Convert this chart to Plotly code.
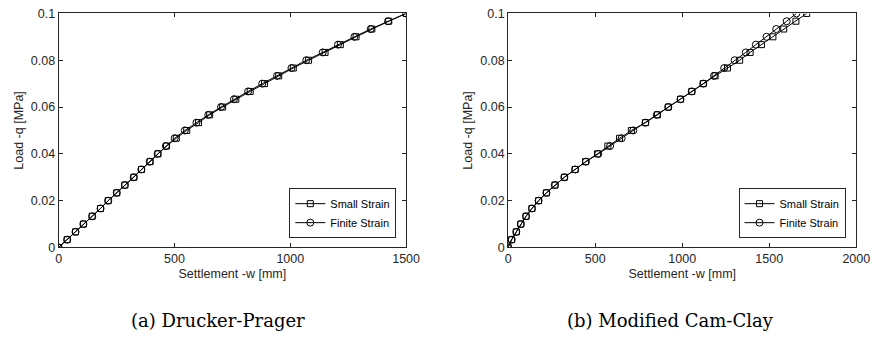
import plotly.graph_objects as go

# Load levels (MPa), 30 increments
load = [k * 0.1 / 30 for k in range(31)]

# (a) Drucker-Prager settlements [mm]
dp_small = [0, 37, 73, 107, 145, 181, 214, 251, 286, 325, 358, 395, 429, 466, 508, 553,
            604, 652, 708, 765, 827, 889, 950, 1013, 1079, 1150, 1216, 1284, 1352, 1425, 1500]
dp_finite = [0, 37, 73, 107, 145, 181, 214, 251, 286, 324, 357, 393, 427, 463, 501, 545,
             595, 646, 701, 757, 818, 879, 943, 1005, 1069, 1140, 1206, 1277, 1347, 1422, 1500]

# (b) Modified Cam-Clay settlements [mm]
mcc_small = [0, 19, 47, 73, 103, 137, 175, 220, 269, 323, 385, 445, 513, 573, 640, 708,
             789, 858, 920, 990, 1055, 1121, 1189, 1260, 1330, 1390, 1455, 1521, 1583, 1653, 1715]
mcc_finite = [0, 21, 47, 73, 103, 137, 175, 220, 269, 323, 385, 447, 518, 586, 652, 719,
              789, 854, 920, 990, 1055, 1121, 1183, 1241, 1301, 1365, 1423, 1484, 1540, 1600, 1656]

names = ["Small Strain", "Finite Strain"]
captions = ["(a) Drucker-Prager", "(b) Modified Cam-Clay"]
x_ranges = [[0, 1500], [0, 2000]]

AXC = "#262626"
fig = go.Figure()

sets = [(dp_small, dp_finite), (mcc_small, mcc_finite)]
for i, (s, f) in enumerate(sets):
    xa = "x" if i == 0 else "x2"
    ya = "y" if i == 0 else "y2"
    lg = "legend" if i == 0 else "legend2"
    fig.add_trace(go.Scatter(x=s, y=load, mode="lines+markers", name=names[0],
                             xaxis=xa, yaxis=ya, legend=lg,
                             line=dict(color="black", width=1),
                             marker=dict(symbol="square-open", size=6, color="black",
                                         line=dict(width=1, color="black"))))
    fig.add_trace(go.Scatter(x=f, y=load, mode="lines+markers", name=names[1],
                             xaxis=xa, yaxis=ya, legend=lg,
                             line=dict(color="black", width=1),
                             marker=dict(symbol="circle-open", size=7, color="black",
                                         line=dict(width=1, color="black"))))

y0, y1 = 1 - 250.7 / 343, 1 - 6.7 / 343
doms = [[56.7 / 886, 411 / 886], [515 / 886, 870 / 886]]

axfont = dict(family="Liberation Sans, Arial", size=12.5, color=AXC)
common_x = dict(showline=True, linecolor=AXC, linewidth=1, mirror="ticks",
                ticks="inside", ticklen=4, tickcolor=AXC, showgrid=False, zeroline=False,
                dtick=500, tickfont=axfont,
                title=dict(text="Settlement -w [mm]", font=axfont, standoff=3))
common_y = dict(showline=True, linecolor=AXC, linewidth=1, mirror="ticks",
                ticks="inside", ticklen=4, tickcolor=AXC, showgrid=False, zeroline=False,
                range=[0, 0.1], dtick=0.02, tickfont=axfont, domain=[y0, y1],
                title=dict(text="Load -q [MPa]", font=axfont, standoff=4))

fig.update_layout(
    width=886, height=343,
    margin=dict(l=0, r=0, t=0, b=0),
    paper_bgcolor="white", plot_bgcolor="white",
    xaxis=dict(common_x, domain=doms[0], range=x_ranges[0], anchor="y"),
    yaxis=dict(common_y, anchor="x"),
    xaxis2=dict(common_x, domain=doms[1], range=x_ranges[1], anchor="y2"),
    yaxis2=dict(common_y, anchor="x2"),
)

legstyle = dict(bgcolor="white", bordercolor=AXC, borderwidth=1,
                font=dict(family="Liberation Sans, Arial", size=11, color="black"),
                xanchor="right", yanchor="bottom", tracegroupgap=0,
                itemwidth=30)
fig.update_layout(
    legend=dict(legstyle, x=401 / 886, y=1 - 241 / 343),
    legend2=dict(legstyle, x=859 / 886, y=1 - 241 / 343),
)

cap_x = [219.5 / 886, 681 / 886]
for cx, txt in zip(cap_x, captions):
    fig.add_annotation(x=cx, y=1 - 327 / 343, xref="paper", yref="paper",
                       text=txt, showarrow=False, xanchor="center", yanchor="middle",
                       font=dict(family="DejaVu Serif", size=18, color="black"))

fig.write_html("out.html")
